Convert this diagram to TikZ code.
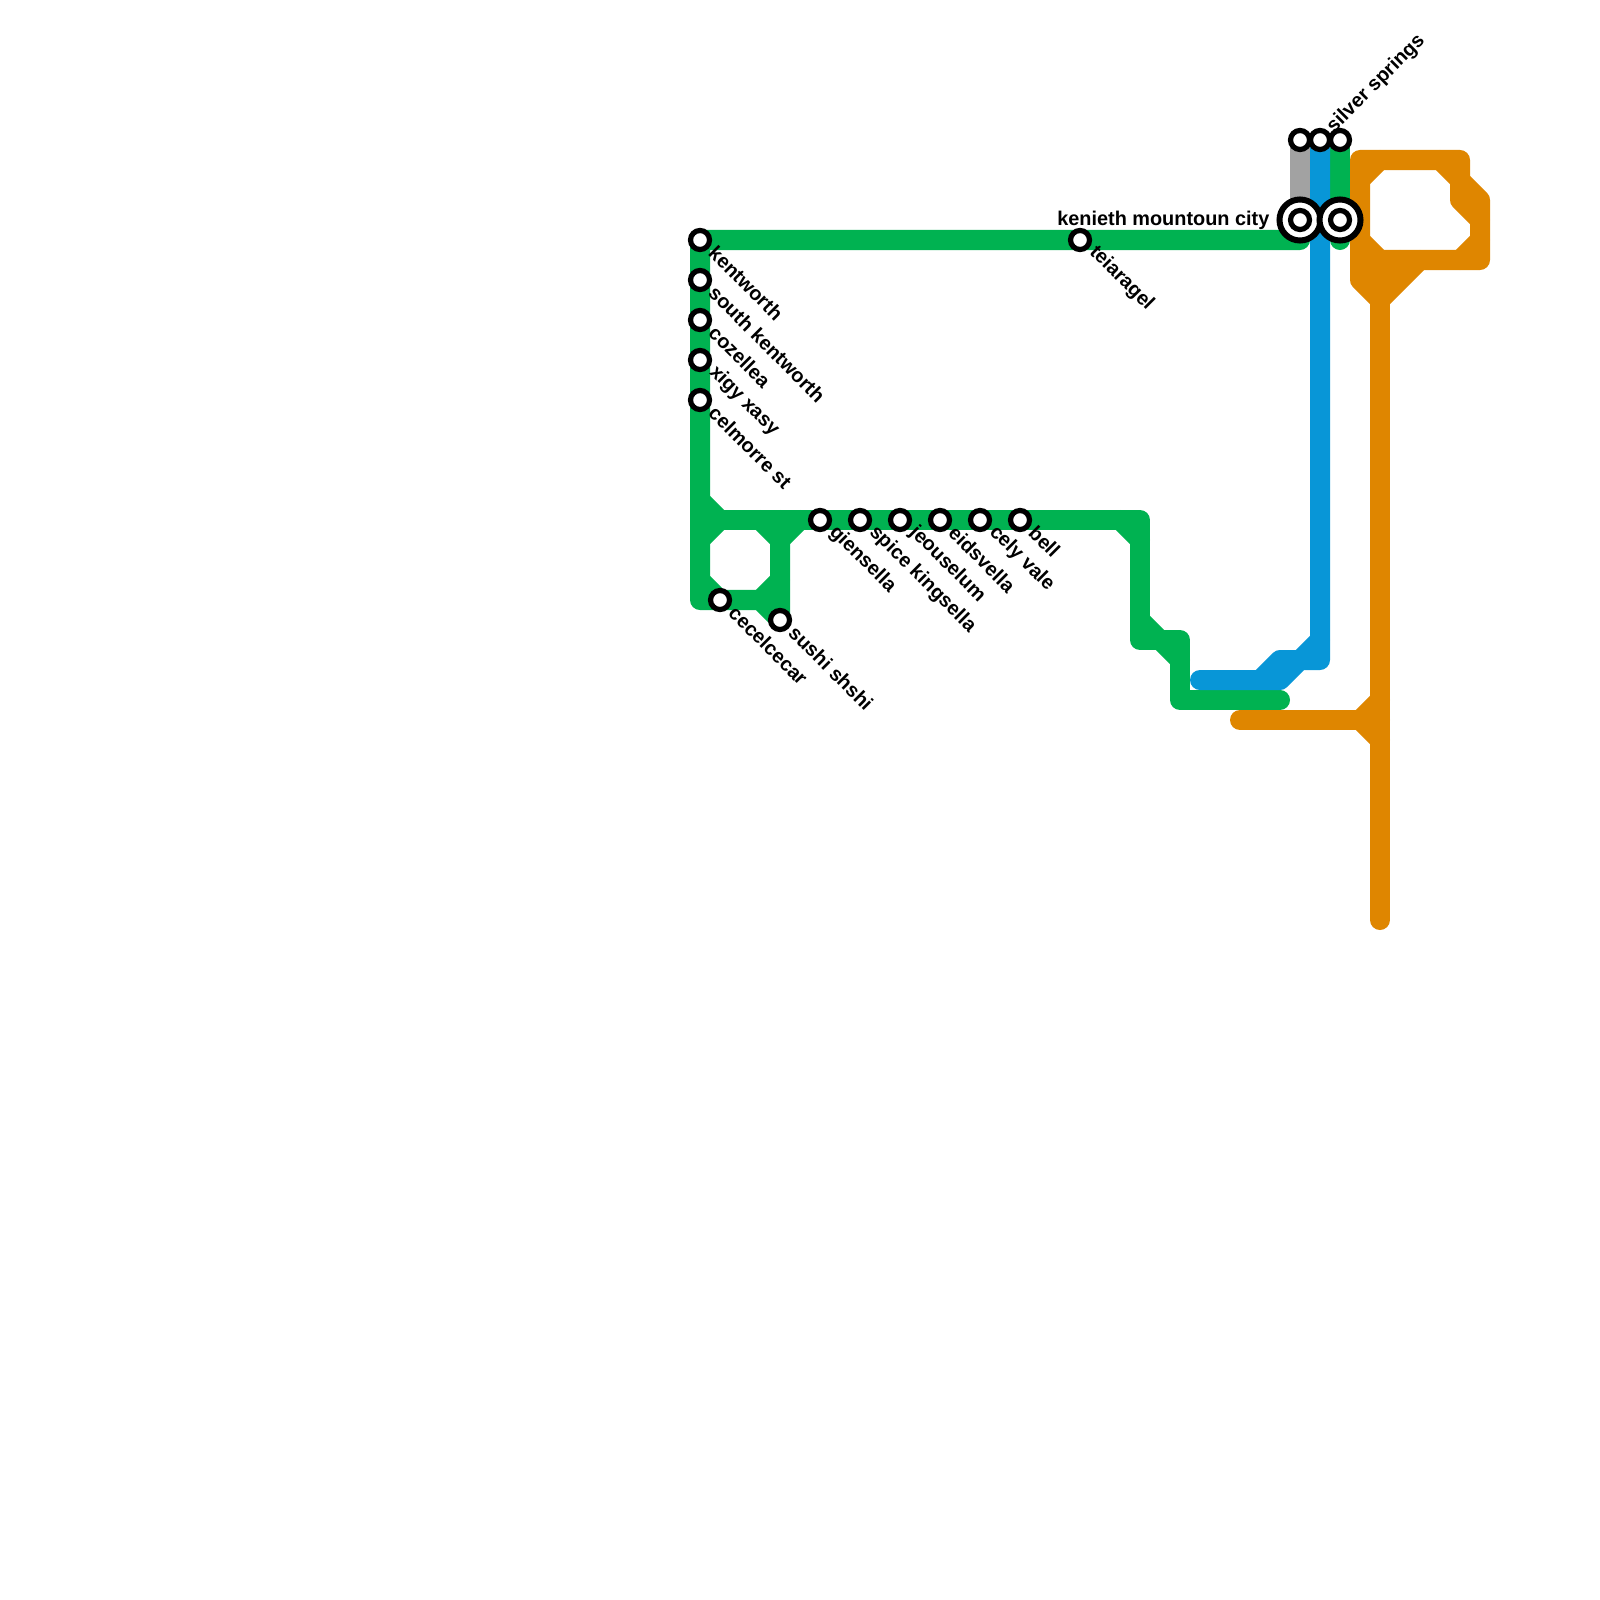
\documentclass[tikz,border=0pt]{standalone}
\usepackage{fontspec}
\setmainfont{Liberation Sans}
\usetikzlibrary{positioning}
\definecolor{metrogreen}{HTML}{00B251}
\definecolor{metroblue}{HTML}{0896D7}
\definecolor{metroorange}{HTML}{DF8600}
\definecolor{metrogray}{HTML}{A2A2A2}
\tikzset{
  x=0.01cm, y=-0.01cm,
  metroline/.style={line width=0.2cm, line cap=round, line join=round},
  stop/.style={circle, draw=black, fill=white, line width=0.052cm, minimum size=0.19cm, inner sep=0pt},
  bigstop/.style={circle, draw=black, fill=white, line width=0.06cm, minimum size=0.41cm, inner sep=0pt},
  downlabel/.style={font=\bfseries\fontsize{5.65pt}{6pt}\selectfont, rotate=-45, anchor=west, inner sep=0pt},
  uplabel/.style={font=\bfseries\fontsize{5.65pt}{6pt}\selectfont, rotate=45, anchor=west, inner sep=0pt},
  leftlabel/.style={font=\bfseries\fontsize{5.65pt}{6pt}\selectfont, anchor=east, inner sep=0pt}
}
\begin{document}
\begin{tikzpicture}
  \useasboundingbox (0,0) rectangle (1600,1600);
  % stations
  \coordinate (Kentworth) at (700,240);
  \coordinate (South Kentworth) at (700,280);
  \coordinate (Cozellea) at (700,320);
  \coordinate (Xigy Xasy) at (700,360);
  \coordinate (Celmorre St) at (700,400);
  \coordinate (Cecelcecar) at (720,600);
  \coordinate (Sushi Shshi) at (780,620);
  \coordinate (Giensella) at (820,520);
  \coordinate (Spice Kingsella) at (860,520);
  \coordinate (Jeouselum) at (900,520);
  \coordinate (Eidsvella) at (940,520);
  \coordinate (Cely Vale) at (980,520);
  \coordinate (Bell) at (1020,520);
  \coordinate (Teiaragel) at (1080,240);
  \coordinate (Kenieth) at (1300,220);
  \coordinate (Kenieth East) at (1340,220);
  \coordinate (Gray Top) at (1300,140);
  \coordinate (Silver Springs) at (1320,140);
  \coordinate (Green Top) at (1340,140);

  % gray line
  \draw[metroline, metrogray] (Gray Top) -- (Kenieth);
  % green lines
  \draw[metroline, metrogreen] (Green Top) -- (1340,240);
  \draw[metroline, metrogreen] (1300,240) -- (Kentworth) -- (700,600) -- (760,600) -- (Sushi Shshi) -- (780,520);
  \draw[metroline, metrogreen] (700,500) -- (720,520);
  \draw[metroline, metrogreen] (700,520) -- (1140,520) -- (1140,640) -- (1180,640) -- (1180,700) -- (1280,700);
  \draw[metroline, metrogreen] (700,540) -- (720,520);
  \draw[metroline, metrogreen] (700,580) -- (720,600);
  \draw[metroline, metrogreen] (760,520) -- (780,540) -- (800,520);
  \draw[metroline, metrogreen] (780,580) -- (760,600);
  \draw[metroline, metrogreen] (1120,520) -- (1140,540);
  \draw[metroline, metrogreen] (1140,620) -- (1160,640) -- (1180,660);
  % blue line
  \draw[metroline, metroblue] (Silver Springs) -- (1320,660) -- (1300,660) -- (1280,680) -- (1200,680);
  \draw[metroline, metroblue] (1320,640) -- (1300,660) -- (1280,660) -- (1260,680);
  % orange line
  \draw[metroline, metroorange] (1380,920) -- (1380,280);
  \draw[metroline, metroorange] (1240,720) -- (1380,720);
  \draw[metroline, metroorange] (1380,700) -- (1360,720) -- (1380,740);
  \draw[metroline, metroorange] (1380,300) -- (1360,280) -- (1360,160) -- (1460,160) -- (1460,200) -- (1480,220);
  \draw[metroline, metroorange] (1360,180) -- (1380,160);
  \draw[metroline, metroorange] (1440,160) -- (1460,180) -- (1480,200) -- (1480,260) -- (1360,260);
  \draw[metroline, metroorange] (1480,240) -- (1460,260);
  \draw[metroline, metroorange] (1360,240) -- (1380,260) -- (1380,300) -- (1420,260);
  \draw[metroline, metroorange] (1360,260) -- (1380,280) -- (1400,260);

  % station marks
  \foreach \name in {Kentworth, South Kentworth, Cozellea, Xigy Xasy, Celmorre St, Cecelcecar, Sushi Shshi, Giensella, Spice Kingsella, Jeouselum, Eidsvella, Cely Vale, Bell, Teiaragel, Gray Top, Silver Springs, Green Top}
    \node[stop] (\name N) at (\name) {};
  \node[bigstop] (Kenieth Ring) at (Kenieth) {};
  \node[stop] (Kenieth N) at (Kenieth) {};
  \node[bigstop] (Kenieth East Ring) at (Kenieth East) {};
  \node[stop] (Kenieth East N) at (Kenieth East) {};

  % labels
  \node[downlabel] (l1) at (712,249) {kentworth};
  \node[downlabel] (l2) at (712,289) {south kentworth};
  \node[downlabel] (l3) at (712,329) {cozellea};
  \node[downlabel] (l4) at (712,369) {xigy xasy};
  \node[downlabel] (l5) at (712,409) {celmorre st};
  \node[downlabel] (l6) at (732,609) {cecelcecar};
  \node[downlabel] (l7) at (792,629) {sushi shshi};
  \node[downlabel] (l8) at (832,529) {giensella};
  \node[downlabel] (l9) at (872,529) {spice kingsella};
  \node[downlabel] (l10) at (912,529) {jeouselum};
  \node[downlabel] (l11) at (952,529) {eidsvella};
  \node[downlabel] (l12) at (992,529) {cely vale};
  \node[downlabel] (l13) at (1032,529) {bell};
  \node[downlabel] (l14) at (1092,249) {teiaragel};
  \node[uplabel] (l15) at (1330,130) {silver springs};
  \node[leftlabel] (l16) at (1270,220) {kenieth mountoun city};
\end{tikzpicture}
\end{document}
